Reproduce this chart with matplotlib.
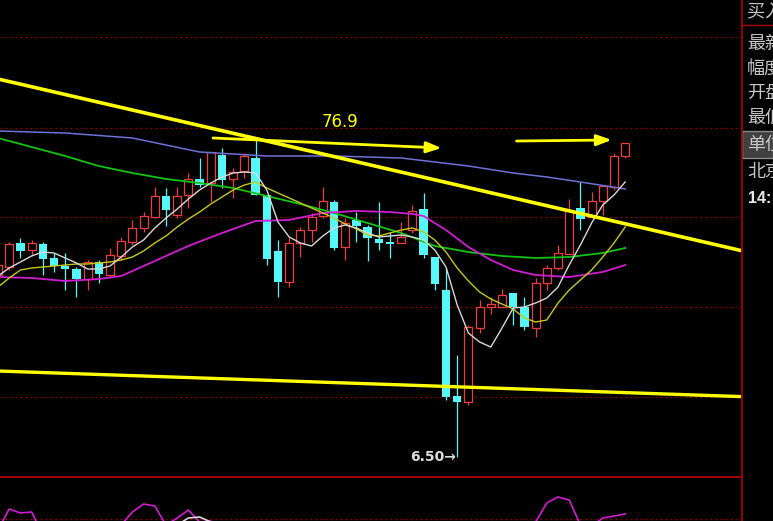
import numpy as np
import matplotlib
matplotlib.use("Agg")
import matplotlib.pyplot as plt
from matplotlib.patches import Rectangle
from matplotlib.lines import Line2D

# ---------------- data ----------------
opens = [8.32, 8.40, 8.64, 8.57, 8.63, 8.49, 8.41, 8.38, 8.28, 8.45,
         8.32, 8.51, 8.65, 8.79, 8.90, 9.11, 8.92, 9.12, 9.28, 9.24,
         9.52, 9.28, 9.36, 9.49, 9.12, 8.56, 8.25, 8.64, 8.77, 8.91,
         9.05, 8.60, 8.87, 8.80, 8.68, 8.65, 8.64, 8.77, 8.98, 8.50,
         8.17, 7.11, 7.05, 7.79, 8.00, 8.00, 8.14, 8.00, 7.79, 8.24,
         8.39, 8.53, 8.99, 8.90, 9.06, 9.20, 9.51]
highs = [8.45, 8.65, 8.69, 8.67, 8.65, 8.54, 8.54, 8.40, 8.47, 8.47,
         8.59, 8.70, 8.87, 8.95, 9.20, 9.19, 9.20, 9.34, 9.49, 9.55,
         9.59, 9.39, 9.54, 9.67, 9.12, 8.67, 8.70, 8.80, 8.94, 9.20,
         9.07, 8.89, 8.95, 8.82, 9.05, 8.75, 8.85, 9.02, 9.14, 8.50,
         8.39, 7.52, 7.82, 8.07, 8.10, 8.18, 8.14, 8.10, 8.29, 8.42,
         8.62, 9.08, 9.25, 9.15, 9.22, 9.54, 9.64]
lows = [8.27, 8.37, 8.49, 8.52, 8.32, 8.35, 8.17, 8.10, 8.17, 8.24,
        8.29, 8.47, 8.62, 8.75, 8.89, 8.81, 8.89, 8.99, 9.20, 9.05,
        9.19, 9.09, 9.29, 9.12, 8.42, 8.10, 8.20, 8.50, 8.65, 8.89,
        8.57, 8.47, 8.65, 8.46, 8.57, 8.49, 8.64, 8.74, 8.49, 8.17,
        7.07, 6.50, 7.02, 7.74, 7.93, 8.00, 7.82, 7.77, 7.70, 8.17,
        8.37, 8.53, 8.77, 8.89, 8.92, 9.17, 9.49]
closes = [8.42, 8.63, 8.56, 8.64, 8.48, 8.41, 8.38, 8.28, 8.45, 8.33,
          8.52, 8.66, 8.79, 8.91, 9.11, 8.97, 9.11, 9.28, 9.22, 9.55,
          9.27, 9.35, 9.51, 9.12, 8.48, 8.25, 8.64, 8.77, 8.90, 9.06,
          8.59, 8.84, 8.81, 8.69, 8.64, 8.63, 8.70, 8.96, 8.52, 8.23,
          7.10, 7.05, 7.80, 8.00, 8.03, 8.12, 8.00, 7.80, 8.24, 8.39,
          8.54, 8.97, 8.88, 9.06, 9.21, 9.51, 9.64]

ma5 = [8.31, 8.39, 8.45, 8.51, 8.55, 8.54, 8.49, 8.44, 8.38, 8.38,
       8.41, 8.50, 8.60, 8.67, 8.79, 8.89, 8.98, 9.08, 9.17, 9.24,
       9.30, 9.34, 9.35, 9.34, 9.17, 8.85, 8.70, 8.64, 8.61, 8.71,
       8.79, 8.82, 8.79, 8.74, 8.70, 8.71, 8.72, 8.70, 8.67, 8.57,
       8.40, 8.02, 7.74, 7.65, 7.60, 7.79, 7.99, 8.00, 8.04, 8.09,
       8.20, 8.42, 8.62, 8.84, 9.02, 9.12, 9.25]
ma10 = [8.20, 8.29, 8.37, 8.39, 8.40, 8.41, 8.42, 8.43, 8.43, 8.44,
        8.45, 8.47, 8.50, 8.56, 8.64, 8.71, 8.80, 8.88, 8.95, 9.03,
        9.10, 9.17, 9.22, 9.25, 9.19, 9.14, 9.09, 9.04, 8.99, 8.94,
        8.89, 8.83, 8.78, 8.72, 8.71, 8.74, 8.77, 8.79, 8.75, 8.67,
        8.55, 8.39, 8.26, 8.15, 8.08, 8.03, 7.98, 7.89, 7.85, 7.87,
        8.04, 8.17, 8.27, 8.37, 8.50, 8.64, 8.80]

green_idx = [0, 3, 6, 9, 12, 15, 18, 21, 24, 27, 30, 33, 36, 39, 42, 45, 48, 51, 54, 56]
green_val = [9.69, 9.60, 9.51, 9.41, 9.34, 9.28, 9.24, 9.19, 9.11, 9.03,
             8.94, 8.84, 8.74, 8.61, 8.55, 8.51, 8.49, 8.50, 8.54, 8.59]

magenta_idx = [0, 3, 6, 9, 11, 14, 17, 20, 23, 26, 29, 32, 35, 37, 38, 40, 42, 44, 46, 48, 51, 54, 56]
magenta_val = [8.30, 8.29, 8.26, 8.28, 8.31, 8.46, 8.61, 8.74, 8.86, 8.87,
               8.94, 8.96, 8.95, 8.93, 8.91, 8.77, 8.60, 8.47, 8.37, 8.32,
               8.30, 8.35, 8.42]

blue_idx = [0, 6, 12, 18, 21, 24, 30, 36, 42, 46, 49, 52, 56]
blue_val = [9.76, 9.74, 9.69, 9.55, 9.53, 9.51, 9.51, 9.49, 9.41, 9.34, 9.30, 9.25, 9.18]

# hand-drawn trend lines (candle index, price)
trend_upper_idx = [0, 70]
trend_upper_val = [10.28, 8.47]
trend_lower_idx = [0, 70]
trend_lower_val = [7.36, 7.09]

# arrows (start idx, start price, end idx, end price)
arrow1 = (19.2, 9.69, 39.6, 9.59)
arrow2 = (46.3, 9.66, 54.8, 9.67)
arrow_label = "76.9"
low_label = "6.50"
low_idx = 41

grid_levels = [10.70, 9.79, 8.90, 8.00, 7.10]

# lower indicator panel (visible segments only)
ind_mag_segments = [
    ([0, 1, 2, 3, 4], [30, 51, 47, 48, 25]),
    ([10, 11, 12, 13, 14, 15, 16, 17, 18, 19, 20], [25, 35, 48, 56, 54, 35, 42, 50, 38, 39, 25]),
    ([47, 48, 49, 50, 51, 52, 53, 54, 55, 56], [25, 38, 57, 63, 60, 35, 34, 42, 44, 46]),
]
ind_wht_segments = [
    ([15, 16, 17, 18, 19, 20], [30, 35, 42, 43, 38, 30]),
    ([52, 53, 54, 55, 56], [25, 28, 31, 34, 36]),
]

panel_labels = ["买入", "最新", "幅度", "开盘", "最低", "单位", "北京"]
panel_label_y = [12, 44, 69, 93, 118, 145, 172]
panel_time = "14:"

# ---------------- styling ----------------
W, H = 773, 521
RED = "#f03c3c"
CYAN = "#55f8f8"
BG = "black"

fig = plt.figure(figsize=(W / 100, H / 100), dpi=100, facecolor=BG)

main_bottom = 521 - 477
ax = fig.add_axes([0, main_bottom / H, 741 / W, 477 / H])
ax.set_facecolor(BG)
ax.set_xlim(2 / 11.2, 743 / 11.2)
ax.set_ylim(6.30, 11.07)
ax.set_axis_off()

# grid
for g in grid_levels:
    ax.axhline(g, color="#9a0000", lw=0.9, ls=(0, (1.5, 2.5)), zorder=0)

o = np.array(opens); c = np.array(closes); hi = np.array(highs); lo = np.array(lows)
idx = np.arange(len(o))
up = c >= o
bot = np.minimum(o, c)
top = np.maximum(o, c)
hgt = np.maximum(top - bot, 0.02)

# wicks
ax.vlines(idx[up], lo[up], bot[up], color=RED, lw=0.9, zorder=2)
ax.vlines(idx[up], top[up], hi[up], color=RED, lw=0.9, zorder=2)
ax.vlines(idx[~up], lo[~up], hi[~up], color=CYAN, lw=0.9, zorder=2)
# bodies
ax.bar(idx[up], hgt[up], bottom=bot[up], width=0.72, facecolor=BG,
       edgecolor=RED, linewidth=0.9, zorder=3)
ax.bar(idx[~up], hgt[~up], bottom=bot[~up], width=0.75, color=CYAN,
       linewidth=0, zorder=3)

# moving averages
ax.plot(blue_idx, blue_val, color="#7070d8", lw=1.1, zorder=4)
ax.plot(green_idx, green_val, color="#12c412", lw=1.3, zorder=4)
ax.plot(magenta_idx, magenta_val, color="#d21cd2", lw=1.3, zorder=4)
ax.plot(idx, ma10, color="#c8c814", lw=1.0, zorder=4)
ax.plot(idx, ma5, color="#d8d8d8", lw=1.0, zorder=4)

# trend lines
ax.plot(trend_upper_idx, trend_upper_val, color="#ffff00", lw=2.6, zorder=5,
        solid_capstyle="butt")
ax.plot(trend_lower_idx, trend_lower_val, color="#ffff00", lw=2.4, zorder=5,
        solid_capstyle="butt")

for (x0, y0, x1, y1) in (arrow1, arrow2):
    ax.annotate("", xy=(x1, y1), xytext=(x0, y0),
                arrowprops=dict(arrowstyle="-|>,head_length=0.9,head_width=0.33",
                                color="#ffff00", lw=2.0, shrinkA=0, shrinkB=0),
                zorder=6)

ax.text(30.5, 9.85, arrow_label, color="#ffff00", fontsize=12,
        ha="center", va="center", zorder=7)

ax.text(low_idx - 0.08, lows[low_idx], low_label + "→", color="#dcdcdc",
        fontsize=10, ha="right", va="center", zorder=7,
        family=["DejaVu Sans"], fontweight="bold")

# lower panel
ax2 = fig.add_axes([0, 0, 741 / W, 44 / H])
ax2.set_facecolor(BG)
ax2.set_xlim(2 / 11.2, 743 / 11.2)
ax2.set_ylim(39, 83)
ax2.set_axis_off()
ax2.axhline(41, color="#9a0000", lw=0.9, ls=(0, (1.5, 2.5)))
for xs, ys in ind_mag_segments:
    ax2.plot(xs, ys, color="#d21cd2", lw=1.2)
for xs, ys in ind_wht_segments:
    ax2.plot(xs, ys, color="#d8d8d8", lw=1.2)

# separators
fig.add_artist(Line2D([0, 741 / W], [1 - 477 / H, 1 - 477 / H], color="#c00000", lw=1.2))
fig.add_artist(Line2D([741.5 / W, 741.5 / W], [0, 1], color="#b00000", lw=1.2))
fig.add_artist(Line2D([741 / W, 1], [1 - 25 / H, 1 - 25 / H], color="#b00000", lw=1.0))

# right info panel
fig.add_artist(Rectangle((742 / W, 1 - 158 / H), 31 / W, 27 / H,
                         transform=fig.transFigure, facecolor="#404040",
                         edgecolor="#8a8a8a", lw=1.0))
for lab, yy in zip(panel_labels, panel_label_y):
    fig.text(747 / W, 1 - yy / H, lab, color="#c8c8c8", fontsize=13,
             va="center", ha="left", family=["Noto Sans CJK SC", "DejaVu Sans"])
fig.text(748 / W, 1 - 199 / H, panel_time, color="#e8e8e8", fontsize=11.5,
         va="center", ha="left", fontweight="bold",
         family=["Liberation Sans", "DejaVu Sans"])

fig.savefig("out.png", dpi=100, facecolor=BG)
